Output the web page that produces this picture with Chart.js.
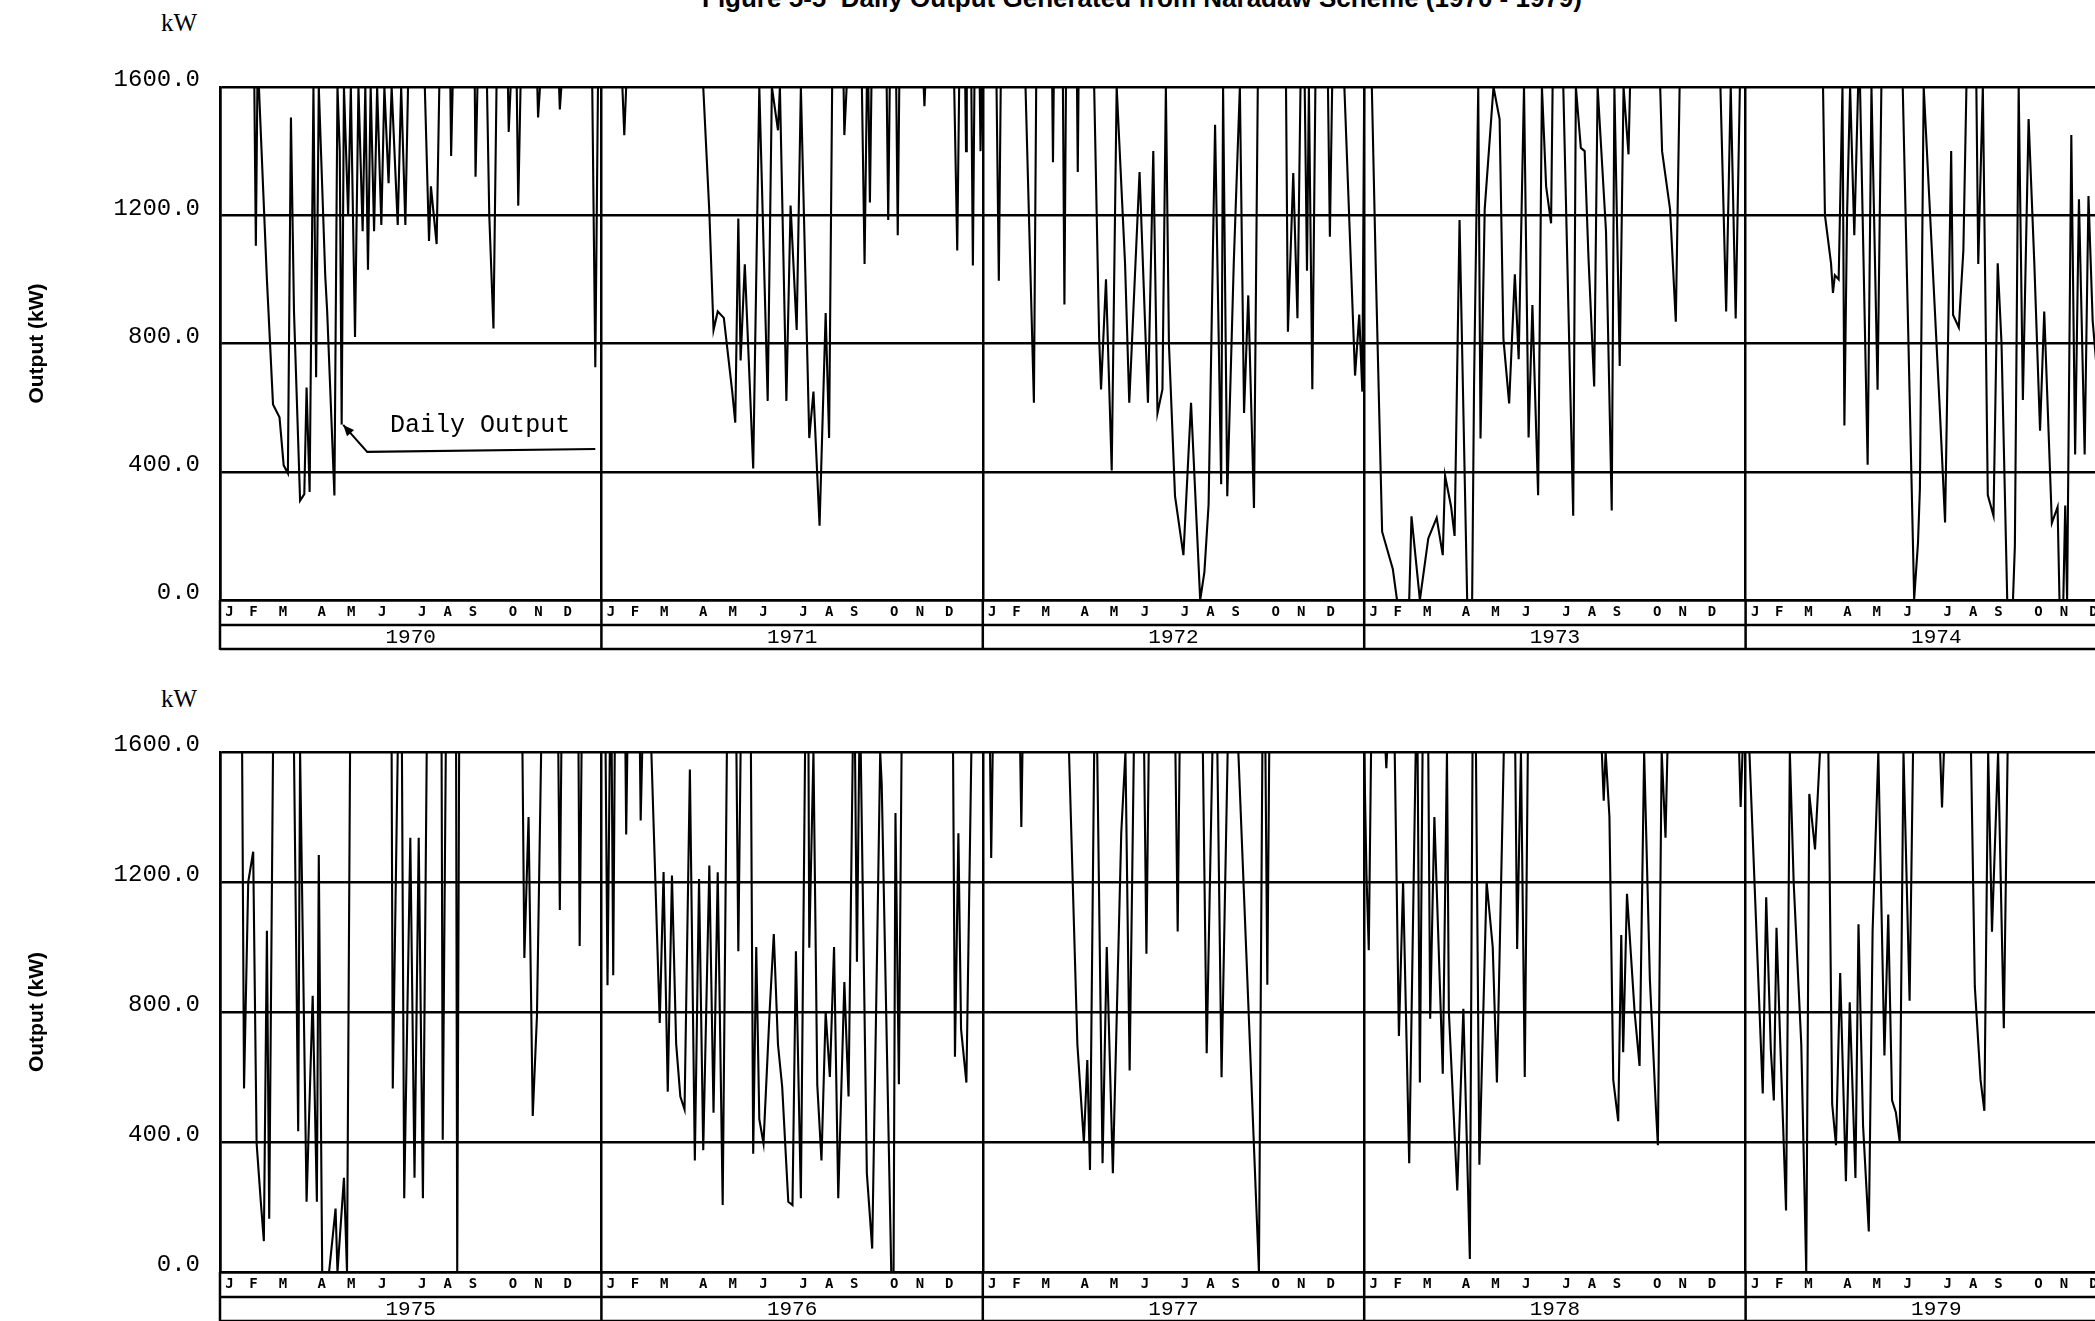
<!DOCTYPE html>
<html>
<head>
<meta charset="utf-8">
<script src="https://cdn.jsdelivr.net/npm/chart.js@4.4.1/dist/chart.umd.min.js"></script>
<style>
  html, body { margin: 0; padding: 0; background: #fff; overflow: hidden; }
  .wrap { position: relative; width: 2095px; height: 1321px; overflow: hidden; background: #fff; }
  canvas { position: absolute; left: 0; }
  #title { position: absolute; left: 702px; top: -17px; font: bold 26px "Liberation Sans", Arial, sans-serif; white-space: nowrap; color: #000; }
  .unit { position: absolute; left: 161px; font: 25px "Liberation Serif", serif; color: #000; }
</style>
</head>
<body>
<div class="wrap">
  <div id="title">Figure 5-5 &nbsp;Daily Output Generated from Naradaw Scheme (1970 - 1979)</div>
  <div class="unit" style="top:9px">kW</div>
  <div class="unit" style="top:685px">kW</div>
  <canvas id="chartTop" width="2137" height="660" style="top:0"></canvas>
  <canvas id="chartBottom" width="2137" height="652" style="top:680px"></canvas>
</div>
<script>
// tick labels
const yTicks = [0, 400, 800, 1200, 1600];
const monthLetters = ['J', 'F', 'M', 'A', 'M', 'J', 'J', 'A', 'S', 'O', 'N', 'D'];
const monthTickPos = [.025, .088, .165, .267, .344, .425, .530, .597, .663, .768, .835, .912];
const yearsTop = ['1970', '1971', '1972', '1973', '1974'];
const yearsBottom = ['1975', '1976', '1977', '1978', '1979'];

// daily output: [fraction of year, kW]
const out1970 = [[0,1600],[.090,1600],[.094,1105],[.098,1600],[.102,1600],[.123,1000],[.139,610],[.156,570],[.167,420],[.178,395],[.186,1505],[.194,900],[.210,310],[.221,330],[.227,663],[.235,337],[.245,1600],[.252,695],[.259,1600],[.276,1010],[.281,900],[.300,326],[.308,1600],[.314,1400],[.319,547],[.325,1600],[.336,1200],[.343,1600],[.354,820],[.363,1600],[.374,1150],[.381,1600],[.388,1030],[.395,1600],[.404,1150],[.412,1600],[.423,1170],[.431,1600],[.442,1300],[.450,1600],[.466,1170],[.475,1600],[.486,1170],[.493,1600],[.537,1600],[.548,1120],[.553,1290],[.568,1110],[.575,1600],[.604,1600],[.606,1385],[.610,1600],[.668,1600],[.670,1320],[.675,1600],[.700,1600],[.706,1200],[.717,847],[.725,1600],[.755,1600],[.757,1460],[.762,1600],[.778,1600],[.782,1230],[.788,1600],[.832,1600],[.834,1505],[.839,1600],[.889,1600],[.891,1530],[.895,1600],[.976,1600],[.984,726],[.991,1600],[1,1600]];
const out1971 = [[0,1600],[.055,1600],[.060,1450],[.065,1600],[.267,1600],[.283,1210],[.294,842],[.305,900],[.321,880],[.343,650],[.351,553],[.359,1190],[.365,747],[.376,1047],[.398,410],[.414,1600],[.436,621],[.447,1600],[.463,1465],[.468,1600],[.485,621],[.496,1230],[.512,842],[.523,1600],[.545,505],[.556,650],[.572,232],[.588,895],[.597,505],[.605,1600],[.635,1600],[.637,1450],[.643,1600],[.683,1600],[.690,1048],[.696,1600],[.700,1600],[.704,1240],[.708,1600],[.748,1600],[.752,1185],[.756,1600],[.773,1600],[.777,1138],[.781,1600],[.845,1600],[.847,1540],[.849,1600],[.925,1600],[.933,1090],[.938,1600],[.954,1600],[.956,1400],[.958,1600],[.970,1600],[.974,1043],[.978,1600],[.992,1600],[.994,1400],[.997,1600],[1,1600]];
const out1972 = [[0,1600],[.036,1600],[.042,996],[.047,1600],[.112,1600],[.134,615],[.140,1600],[.182,1600],[.184,1365],[.186,1600],[.210,1600],[.214,922],[.218,1600],[.247,1600],[.249,1335],[.251,1600],[.292,1600],[.305,820],[.310,657],[.323,1000],[.338,404],[.351,1600],[.373,1048],[.384,615],[.411,1335],[.433,615],[.447,1400],[.458,583],[.471,657],[.480,1600],[.488,800],[.504,324],[.526,140],[.546,615],[.570,0],[.581,87],[.592,298],[.609,1482],[.625,361],[.630,1600],[.641,324],[.658,1050],[.674,1600],[.685,583],[.696,950],[.711,287],[.721,1600],[.795,1600],[.800,837],[.814,1332],[.825,879],[.833,1600],[.844,1600],[.850,1027],[.855,1600],[.864,657],[.872,1600],[.905,1600],[.910,1133],[.916,1600],[.948,1600],[.976,700],[.987,890],[.995,650],[1,1600]];
const out1973 = [[0,1600],[.020,1600],[.031,1000],[.047,213],[.075,97],[.086,0],[.118,0],[.124,261],[.146,0],[.168,192],[.190,256],[.206,140],[.212,388],[.228,290],[.237,200],[.250,1185],[.270,0],[.283,0],[.288,668],[.299,1600],[.305,504],[.316,1220],[.339,1600],[.355,1500],[.365,815],[.380,613],[.395,1016],[.405,751],[.419,1600],[.431,507],[.441,920],[.456,327],[.466,1600],[.477,1290],[.490,1175],[.494,1600],[.522,1600],[.548,263],[.555,1600],[.568,1410],[.578,1400],[.588,1069],[.603,666],[.612,1600],[.634,1150],[.649,279],[.656,1600],[.670,730],[.680,1600],[.693,1390],[.697,1600],[.776,1600],[.781,1400],[.802,1218],[.817,868],[.827,1600],[.934,1600],[.949,900],[.961,1600],[.974,878],[.985,1600],[1,1600]];
const out1974 = [[0,1600],[.203,1600],[.208,1200],[.224,1050],[.229,958],[.234,1013],[.244,1000],[.254,1600],[.259,544],[.266,1200],[.274,1600],[.285,1138],[.295,1600],[.300,1600],[.320,422],[.330,1600],[.346,656],[.356,1600],[.412,1600],[.442,3],[.452,178],[.457,348],[.467,1600],[.508,624],[.523,242],[.539,1400],[.544,889],[.559,850],[.571,1091],[.579,1600],[.605,1600],[.610,1048],[.622,1600],[.635,327],[.650,263],[.661,1050],[.671,800],[.686,0],[.701,0],[.706,168],[.716,1600],[.727,624],[.742,1500],[.757,1050],[.772,528],[.783,900],[.803,240],[.818,290],[.823,0],[.833,0],[.838,295],[.843,0],[.854,1450],[.864,454],[.874,1250],[.889,454],[.899,1260],[.910,870],[.920,730],[.930,1600],[1,1600]];
const out1975 = [[0,1600],[.058,1600],[.063,565],[.074,1200],[.087,1293],[.096,396],[.107,216],[.115,95],[.123,1050],[.129,164],[.139,1600],[.194,1600],[.205,433],[.210,1600],[.227,216],[.243,850],[.254,216],[.259,1283],[.268,0],[.286,0],[.303,195],[.308,0],[.325,290],[.333,0],[.341,1600],[.450,1600],[.453,565],[.466,1600],[.477,1600],[.483,227],[.499,1336],[.510,290],[.521,1336],[.532,227],[.542,1600],[.581,1600],[.584,407],[.592,1600],[.619,1600],[.622,0],[.627,1600],[.793,1600],[.798,966],[.809,1400],[.820,480],[.831,787],[.842,1600],[.887,1600],[.891,1114],[.895,1600],[.940,1600],[.943,1003],[.948,1600],[1,1600]];
const out1976 = [[0,1600],[.011,1600],[.016,882],[.022,1600],[.027,1600],[.031,913],[.035,1600],[.063,1600],[.065,1346],[.068,1600],[.101,1600],[.103,1389],[.107,1600],[.131,1600],[.153,766],[.163,1231],[.174,555],[.185,1220],[.196,702],[.207,540],[.218,500],[.232,1546],[.245,343],[.256,1209],[.267,375],[.283,1251],[.294,490],[.305,1230],[.318,206],[.329,1600],[.354,1600],[.359,987],[.365,1600],[.392,1600],[.398,364],[.406,1000],[.414,470],[.425,396],[.441,800],[.452,1040],[.463,700],[.474,570],[.490,216],[.501,206],[.510,987],[.523,227],[.534,1600],[.543,1600],[.545,998],[.556,1600],[.566,576],[.577,343],[.588,800],[.599,600],[.610,1000],[.621,227],[.637,892],[.648,540],[.659,1600],[.665,1600],[.670,955],[.676,1600],[.680,1600],[.696,304],[.710,72],[.723,1000],[.731,1600],[.735,1500],[.760,0],[.766,0],[.771,1412],[.780,578],[.787,1600],[.922,1600],[.927,662],[.936,1350],[.943,747],[.957,583],[.970,1600],[1,1600]];
const out1977 = [[0,1600],[.019,1600],[.022,1274],[.026,1600],[.098,1600],[.101,1369],[.104,1600],[.226,1600],[.248,700],[.265,399],[.274,652],[.281,314],[.292,1600],[.300,1600],[.314,335],[.325,1000],[.341,304],[.363,1350],[.374,1600],[.385,620],[.396,1600],[.423,1600],[.429,979],[.435,1600],[.505,1600],[.511,1048],[.516,1600],[.577,1600],[.587,673],[.602,1600],[.615,1600],[.626,599],[.642,1600],[.670,1600],[.724,0],[.733,1600],[.741,1600],[.746,884],[.751,1600],[1,1600]];
const out1978 = [[0,1600],[.006,1222],[.012,990],[.018,1600],[.056,1600],[.058,1550],[.060,1600],[.080,1600],[.091,726],[.102,1200],[.118,335],[.135,1600],[.140,1600],[.146,583],[.153,1600],[.168,1600],[.173,779],[.184,1400],[.206,610],[.217,1600],[.222,800],[.244,251],[.260,810],[.277,40],[.284,1600],[.293,1600],[.302,330],[.321,1200],[.337,1000],[.348,583],[.361,1312],[.366,1600],[.396,1600],[.401,994],[.411,1600],[.421,600],[.429,1600],[.623,1600],[.628,1450],[.633,1600],[.643,1400],[.653,591],[.666,464],[.674,1037],[.679,676],[.689,1164],[.709,800],[.722,634],[.734,1600],[.749,900],[.765,500],[.770,390],[.780,1600],[.790,1336],[.795,1600],[.983,1600],[.987,1431],[.992,1600],[1,1600]];
const out1979 = [[0,1600],[.010,1600],[.045,549],[.054,1153],[.066,687],[.074,528],[.081,1059],[.091,700],[.106,189],[.116,1600],[.126,1200],[.146,700],[.159,0],[.167,1471],[.182,1300],[.195,1600],[.217,1600],[.227,517],[.237,390],[.248,920],[.263,279],[.273,830],[.288,289],[.296,1070],[.308,450],[.323,125],[.333,1050],[.348,1600],[.364,666],[.374,1100],[.384,528],[.394,491],[.404,401],[.414,1600],[.430,835],[.439,1600],[.510,1600],[.515,1429],[.520,1600],[.591,1600],[.601,878],[.616,591],[.626,496],[.636,1600],[.646,1047],[.662,1600],[.677,750],[.687,1600],[1,1600]];

// annotation in data units (years from panel start, kW)
const noteText = 'Daily Output';
const notePos = [0.446, 546];
const arrowPath = [[0.984, 471], [0.386, 462], [0.323, 546]];

const monoFont = '"Liberation Mono", "Courier New", monospace';

// box lines under the plot (month row / year row)
const tableLines = {
  id: 'tableLines',
  afterDraw(chart) {
    const { ctx, chartArea, scales } = chart;
    ctx.save();
    ctx.strokeStyle = '#000';
    ctx.lineWidth = 2.5;
    ctx.beginPath();
    ctx.moveTo(chartArea.left, scales.xm.bottom);
    ctx.lineTo(chartArea.right, scales.xm.bottom);
    ctx.moveTo(chartArea.left, scales.xy.bottom - 1);
    ctx.lineTo(chartArea.right, scales.xy.bottom - 1);
    for (let i = 0; i <= 5; i++) {
      const px = scales.x.getPixelForValue(i);
      ctx.moveTo(px, chartArea.bottom);
      ctx.lineTo(px, scales.xy.bottom);
    }
    ctx.stroke();
    ctx.restore();
  }
};

// "Daily Output" label with arrow
const noteArrow = {
  id: 'noteArrow',
  afterDatasetsDraw(chart) {
    const { ctx, scales } = chart;
    const pts = arrowPath.map(([x, y]) => [scales.x.getPixelForValue(x), scales.y.getPixelForValue(y)]);
    ctx.save();
    ctx.strokeStyle = '#000';
    ctx.fillStyle = '#000';
    ctx.lineWidth = 2;
    ctx.beginPath();
    pts.forEach(([x, y], i) => i ? ctx.lineTo(x, y) : ctx.moveTo(x, y));
    ctx.stroke();
    const [bx, by] = pts[pts.length - 2];
    const [tx, ty] = pts[pts.length - 1];
    const a = Math.atan2(ty - by, tx - bx);
    ctx.beginPath();
    ctx.moveTo(tx, ty);
    ctx.lineTo(tx - 12 * Math.cos(a - 0.4), ty - 12 * Math.sin(a - 0.4));
    ctx.lineTo(tx - 12 * Math.cos(a + 0.4), ty - 12 * Math.sin(a + 0.4));
    ctx.closePath();
    ctx.fill();
    ctx.font = '25px ' + monoFont;
    ctx.textBaseline = 'middle';
    ctx.textAlign = 'left';
    ctx.fillText(noteText, scales.x.getPixelForValue(notePos[0]), scales.y.getPixelForValue(notePos[1]));
    ctx.restore();
  }
};

function makeChart(id, yearLabels, yearsData, padTop, withNote) {
  const points = yearsData.flatMap((arr, i) => arr.map(([f, v]) => ({ x: i + f, y: v })));
  return new Chart(document.getElementById(id).getContext('2d'), {
    type: 'line',
    data: {
      datasets: [{
        data: points,
        borderColor: '#000',
        borderWidth: 2.1,
        pointRadius: 0,
        tension: 0,
        fill: false
      }]
    },
    options: {
      responsive: false,
      animation: false,
      layout: { padding: { top: padTop, bottom: 10, left: 0, right: 10 } },
      plugins: { legend: { display: false }, tooltip: { enabled: false } },
      scales: {
        y: {
          min: 0,
          max: 1600,
          afterBuildTicks: s => { s.ticks = yTicks.map(v => ({ value: v })); },
          afterFit: s => { s.width = 220; },
          ticks: {
            callback: v => v.toFixed(1),
            color: '#000',
            font: { family: monoFont, size: 24 },
            padding: 20,
            labelOffset: -7
          },
          grid: { color: '#000', lineWidth: 2.5, drawTicks: false },
          border: { color: '#000', width: 2.5 },
          title: {
            display: true,
            text: 'Output (kW)',
            color: '#000',
            font: { family: '"Liberation Sans", Arial, sans-serif', size: 21, weight: 'bold' },
            padding: { top: 25, bottom: 0 }
          }
        },
        x: {
          type: 'linear',
          min: 0,
          max: 5,
          position: 'bottom',
          weight: 0,
          afterBuildTicks: s => { s.ticks = [0, 1, 2, 3, 4, 5].map(v => ({ value: v })); },
          afterFit: s => { s.height = 0; },
          ticks: { display: false },
          grid: { color: '#000', lineWidth: 2.5, drawTicks: false },
          border: { color: '#000', width: 2.5 }
        },
        xm: {
          type: 'linear',
          min: 0,
          max: 5,
          position: 'bottom',
          weight: 1,
          afterBuildTicks: s => { s.ticks = [0, 1, 2, 3, 4].flatMap(y => monthTickPos.map(p => ({ value: y + p }))); },
          afterFit: s => { s.height = 25; },
          ticks: {
            callback: (v, i) => monthLetters[i % 12],
            autoSkip: false,
            maxRotation: 0,
            minRotation: 0,
            color: '#000',
            font: { family: '"DejaVu Sans Mono", monospace', size: 14, weight: 'bold' },
            padding: 4
          },
          grid: { display: false, drawTicks: false },
          border: { display: false }
        },
        xy: {
          type: 'linear',
          min: 0,
          max: 5,
          position: 'bottom',
          weight: 2,
          afterBuildTicks: s => { s.ticks = [0.5, 1.5, 2.5, 3.5, 4.5].map(v => ({ value: v })); },
          afterFit: s => { s.height = 25; },
          ticks: {
            callback: (v, i) => yearLabels[i],
            autoSkip: false,
            maxRotation: 0,
            minRotation: 0,
            color: '#000',
            font: { family: monoFont, size: 21 },
            padding: 0
          },
          grid: { display: false, drawTicks: false },
          border: { display: false }
        }
      }
    },
    plugins: withNote ? [tableLines, noteArrow] : [tableLines]
  });
}

makeChart('chartTop', yearsTop, [out1970, out1971, out1972, out1973, out1974], 87, true);
makeChart('chartBottom', yearsBottom, [out1975, out1976, out1977, out1978, out1979], 72, false);
</script>
</body>
</html>
